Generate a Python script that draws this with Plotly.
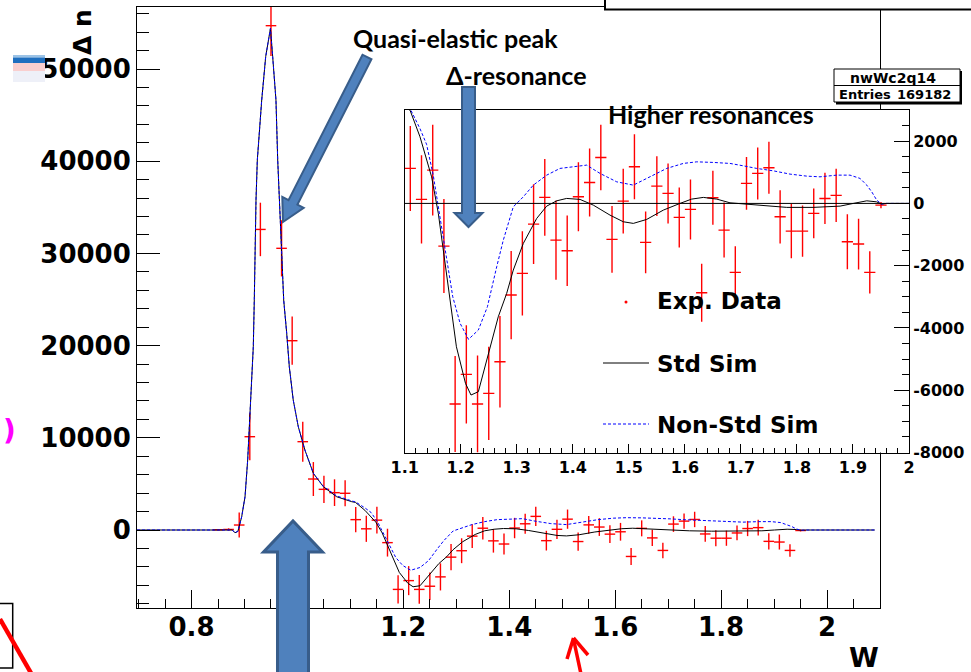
import math
import plotly.graph_objects as go

# ---------------- data ----------------
data_w = [0.85, 0.87, 0.89, 0.91, 0.93, 0.95, 0.97, 0.99, 1.01, 1.03, 1.05, 1.07, 1.09,
          1.11, 1.13, 1.15, 1.17, 1.19, 1.21, 1.23, 1.25, 1.27, 1.29, 1.31, 1.33, 1.35,
          1.37, 1.39, 1.41, 1.43, 1.45, 1.47, 1.49, 1.51, 1.53, 1.55, 1.57, 1.59, 1.61,
          1.63, 1.65, 1.67, 1.69, 1.71, 1.73, 1.75, 1.77, 1.79, 1.81, 1.83, 1.85, 1.87,
          1.89, 1.91, 1.93, 1.95]
data_dn = [20, 60, 540, 10120, 32600, 54700, 30550, 20530, 9580, 5530, 4410, 4050, 3980,
           1124, 128, 1069, -1371, -6443, -5490, -6443, -6100, -5085, -2944, -2248, -665, 193,
           -1178, -1520, 213, 673, 1476, -1156, 74, 1176, -1252, 555, 321, -450, -193,
           -2870, 180, -857, -2216, 642, 963, 1143, -430, -889, -889, -321, 160, 257,
           -1232, -1306, -2216, -55]
data_err = [60, 120, 1350, 2550, 2900, 3300, 3050, 2620, 2170, 1840, 1480, 1450, 1410,
            1364, 1416, 1460, 1509, 1540, 1575, 1560, 1500, 1470, 1415, 1350, 1284, 1230,
            1273, 1130, 1107, 1091, 1053, 1070, 1043, 1043, 990, 963, 963, 963, 963,
            930, 867, 883, 840, 845, 835, 835, 855, 870, 825, 800, 825, 857,
            883, 813, 680, 100]
bin_half_width = 0.01

std_w = [0.697, 0.86, 0.877, 0.882, 0.8875, 0.8947, 0.901, 0.906, 0.9104, 0.9136, 0.9166,
         0.9185, 0.9198, 0.9217, 0.9242, 0.9325, 0.940, 0.949, 0.9532, 0.9594, 0.9627,
         0.967, 0.9721, 0.974, 0.9797, 0.9846, 0.992, 1.0016, 1.014, 1.030, 1.0488, 1.074,
         1.1025, 1.1095, 1.1273, 1.148, 1.16, 1.169, 1.181, 1.1923, 1.2085, 1.2183, 1.2314,
         1.2476, 1.267, 1.282, 1.2938, 1.3117, 1.3356, 1.3534, 1.3713, 1.389, 1.4129, 1.4366,
         1.4664, 1.4902, 1.508, 1.5319, 1.5616, 1.5913, 1.612, 1.633, 1.657, 1.6806, 1.71,
         1.74, 1.7818, 1.829, 1.877, 1.9007, 1.9246, 1.942, 1.951, 1.96, 2.09]
std_dn = [0, 0, 0, -300, -150, 1440, 3610, 7590, 12690, 16630, 19880,
          25000, 32180, 35790, 40130, 46640, 51340, 54400, 51340, 46640, 40130,
          33980, 27470, 24950, 21330, 17710, 14100, 11200, 8680, 6150, 4700, 3610,
          3070, 2995, 2138, 854, -321, -1499, -3104, -4604, -5780, -6154, -6048,
          -4976, -3640, -2890, -2141, -1284, -482, -87, 83, 160, 128, -55,
          -376, -590, -642, -514, -215, 0, 138, 193, 138, 19, -22,
          -87, -128, -128, -87, 0, 83, 51, -22, 0, 0]

nonstd_w = [0.697, 0.86, 0.877, 0.882, 0.8875, 0.8947, 0.901, 0.906, 0.9104, 0.9136, 0.9166,
            0.9185, 0.9198, 0.9217, 0.9242, 0.9325, 0.940, 0.949, 0.9532, 0.9594, 0.9627,
            0.967, 0.9721, 0.974, 0.9797, 0.9846, 0.992, 1.0016, 1.014, 1.030, 1.0488, 1.074,
            1.1025, 1.1095, 1.1273, 1.139, 1.151, 1.163, 1.173, 1.1858, 1.1989, 1.2139,
            1.2314, 1.2476, 1.2642, 1.276, 1.2938, 1.3117, 1.3295, 1.3534, 1.3772, 1.401,
            1.4248, 1.4486, 1.4784, 1.508, 1.5378, 1.5676, 1.5972, 1.6211, 1.6508, 1.6806,
            1.7043, 1.7282, 1.7579, 1.7877, 1.8175, 1.8412, 1.871, 1.8947, 1.9126, 1.9246,
            1.9335, 1.9424, 1.951, 1.96, 2.09]
nonstd_dn = [0, 0, 0, -300, -150, 1440, 3610, 7590, 12690, 16630, 19880,
             25000, 32180, 35790, 40130, 46640, 51340, 54400, 51340, 46640, 40130,
             33980, 27470, 24950, 21330, 17710, 14100, 11200, 8680, 6150, 4750, 3700,
             3150, 3050, 2400, 1900, 900, -450, -1600, -3000, -3852, -4366,
             -4067, -3319, -2035, -1178, -109, 212, 587, 908, 1124, 1175,
             1230, 963, 693, 587, 854, 1124, 1284, 1335, 1316, 1284,
             1207, 1124, 1046, 941, 876, 854, 908, 908, 803, 587,
             372, 106, -22, 0, 0]

main_x_range = [0.697, 2.1]
main_y_range = [-8460, 56725]
inset_x_range = [1.1, 2.0]
inset_y_range = [-8000, 3000]
inset_y_ticks = [-8000, -6000, -4000, -2000, 0, 2000]
inset_y_ticktext = ["-8000", "-6000", "-4000", "-2000", "0", "2000"]

legend_labels = ["Exp. Data", "Std Sim", "Non-Std Sim"]

# ---------------- layout geometry ----------------
W, H = 971, 672
L, R, T, B = 137, 62, 7, 64
PW, PH = W - L - R, H - T - B


def PX(x):
    return (x - L) / PW


def PY(y):
    return (H - B - y) / PH


RED = "#ff0000"
BLUE = "#0000ff"
ARROW_FILL = "#4f81bd"
ARROW_LINE = "#385d8a"
TICKFONT = dict(family="DejaVu Sans", size=26, color="black", weight="bold")
INSETFONT = dict(family="DejaVu Sans", size=16, color="black", weight="bold")

fig = go.Figure()

for xa, ya in (("x", "y"), ("x2", "y2")):
    fig.add_trace(go.Scatter(
        x=data_w, y=data_dn, mode="markers", xaxis=xa, yaxis=ya,
        marker=dict(size=1, color=RED),
        error_x=dict(type="constant", value=bin_half_width, width=0, thickness=1.4, color=RED),
        error_y=dict(type="data", array=data_err, width=0, thickness=1.4, color=RED),
        showlegend=False, hoverinfo="skip"))
    fig.add_trace(go.Scatter(
        x=std_w, y=std_dn, mode="lines", xaxis=xa, yaxis=ya,
        line=dict(color="black", width=1), showlegend=False, hoverinfo="skip"))
    fig.add_trace(go.Scatter(
        x=nonstd_w, y=nonstd_dn, mode="lines", xaxis=xa, yaxis=ya,
        line=dict(color=BLUE, width=1, dash="3px,2px"), showlegend=False, hoverinfo="skip"))

shapes = []
annotations = []


def poly_path(pts):
    s = "M {:.5f} {:.5f}".format(PX(pts[0][0]), PY(pts[0][1]))
    for p in pts[1:]:
        s += " L {:.5f} {:.5f}".format(PX(p[0]), PY(p[1]))
    return s + " Z"


def block_arrow(tail, tip, shw, hhw, hl, lw):
    dx, dy = tip[0] - tail[0], tip[1] - tail[1]
    ln = math.hypot(dx, dy)
    ux, uy = dx / ln, dy / ln
    nx, ny = -uy, ux
    bx, by = tip[0] - ux * hl, tip[1] - uy * hl
    pts = [(tail[0] + nx * shw, tail[1] + ny * shw), (bx + nx * shw, by + ny * shw),
           (bx + nx * hhw, by + ny * hhw), tip, (bx - nx * hhw, by - ny * hhw),
           (bx - nx * shw, by - ny * shw), (tail[0] - nx * shw, tail[1] - ny * shw)]
    shapes.append(dict(type="path", xref="paper", yref="paper", path=poly_path(pts),
                       fillcolor=ARROW_FILL, line=dict(color=ARROW_LINE, width=lw), layer="above"))


def rect(x0, y0, x1, y1, fill="white", lc="black", lw=1):
    shapes.append(dict(type="rect", xref="paper", yref="paper", x0=PX(x0), x1=PX(x1),
                       y0=PY(y1), y1=PY(y0), fillcolor=fill,
                       line=dict(color=lc, width=lw), layer="above"))


def seg(x0, y0, x1, y1, color="black", width=1, dash=None):
    ln = dict(color=color, width=width)
    if dash:
        ln["dash"] = dash
    shapes.append(dict(type="line", xref="paper", yref="paper", x0=PX(x0), x1=PX(x1),
                       y0=PY(y0), y1=PY(y1), line=ln, layer="above"))


def text(s, x, y, font, xanchor="left", yanchor="middle", angle=0):
    annotations.append(dict(text=s, x=PX(x), y=PY(y), xref="paper", yref="paper",
                            xanchor=xanchor, yanchor=yanchor, showarrow=False,
                            font=font, textangle=angle))


# inset zero line
shapes.append(dict(type="line", xref="x2", yref="y2", x0=inset_x_range[0], x1=inset_x_range[1],
                   y0=0, y1=0, line=dict(color="black", width=1), layer="above"))

# title box at top and stats box
rect(605, -6, 980, 9.5, lw=2)
rect(836, 71, 962, 104.5, fill="black", lc="black", lw=0)
rect(834, 69, 960, 102, lw=1)
seg(834, 85.5, 960, 85.5)
stat_font = dict(family="DejaVu Sans", size=13, color="black", weight="bold")
text("nwWc2q14", 893, 77.5, dict(stat_font, size=14), xanchor="center")
text("Entries", 837, 94.5, stat_font)
text("169182", 953, 94.5, stat_font, xanchor="right")

# arrows
block_arrow((367, 57), (283, 222), 5, 12, 22, 2)
block_arrow((468.5, 87), (468.5, 227), 6.5, 14, 14, 2)
block_arrow((293, 700), (293, 521), 15.5, 29.5, 31, 3)

# red arrow bottom
seg(581, 674, 573.5, 639, color=RED, width=3.5)
seg(567, 659, 573.5, 638, color=RED, width=3.5)
seg(588, 655, 573.5, 638, color=RED, width=3.5)

# left side fragments
rect(13, 55, 45, 57.5, fill="#9cc3e6", lc="#9cc3e6", lw=0)
rect(13, 57.5, 45, 63, fill="#1f6fbf", lc="#1f6fbf", lw=0)
rect(13, 63, 45, 71, fill="#f9cfcf", lc="#f9cfcf", lw=0)
rect(13, 71, 45, 82, fill="#eef0f8", lc="#eef0f8", lw=0)
rect(-3, 603.5, 12.7, 668, fill="rgba(0,0,0,0)", lw=1.5)
seg(0, 619, 31, 673, color=RED, width=4.5)
text(")", 9, 430, dict(family="DejaVu Sans", size=28, color="#ff00ff", weight="bold"),
     xanchor="center")

# inset legend
shapes.append(dict(type="circle", xref="paper", yref="paper", x0=PX(624.5), x1=PX(627.5),
                   y0=PY(303.5), y1=PY(300.5), fillcolor=RED, line=dict(width=0), layer="above"))
seg(603, 363, 649, 363, color="black", width=1)
seg(603, 424, 649, 424, color=BLUE, width=1, dash="3px,2px")
leg_font = dict(family="DejaVu Sans", size=23, color="black", weight="bold")
text(legend_labels[0], 655, 301, leg_font)
text(legend_labels[1], 655, 364, leg_font)
text(legend_labels[2], 655, 425, leg_font)

# annotation texts
ann_font = dict(family="Lato", size=25, color="black", weight="bold")
text("Quasi-elastic peak", 351, 38, ann_font)
text("Δ-resonance", 444, 75, ann_font)
text("Higher resonances", 606, 114, ann_font)

# axis titles
title_font = dict(family="DejaVu Sans", size=27, color="black", weight="bold")
text("W", 881, 657, title_font, xanchor="right")
text("Δ n", 82, 7, dict(title_font, size=25), xanchor="center", yanchor="top", angle=-90)

main_x_dom = [0, PX(880)]
inset_x_dom = [PX(404.7), 1]
inset_y_dom = [PY(452.5), PY(110)]

fig.update_layout(
    width=W, height=H,
    margin=dict(l=L, r=R, t=T, b=B, pad=0),
    paper_bgcolor="white", plot_bgcolor="white",
    showlegend=False,
    shapes=shapes, annotations=annotations,
    xaxis=dict(domain=main_x_dom, range=main_x_range, anchor="y",
               showline=True, mirror=True, linecolor="black", linewidth=1,
               showgrid=False, zeroline=False,
               ticks="inside", ticklen=18, tickwidth=1, tickcolor="black",
               dtick=0.2, tick0=0, tickfont=TICKFONT, ticklabelstandoff=-4,
               minor=dict(dtick=0.05, ticks="inside", ticklen=9, tickcolor="black", showgrid=False)),
    yaxis=dict(domain=[0, 1], range=main_y_range, anchor="x",
               showline=True, mirror=True, linecolor="black", linewidth=1,
               showgrid=False, zeroline=False,
               ticks="inside", ticklen=23, tickwidth=1, tickcolor="black",
               dtick=10000, tick0=0, tickformat="d", tickfont=TICKFONT,
               minor=dict(dtick=2000, ticks="inside", ticklen=12, tickcolor="black", showgrid=False)),
    xaxis2=dict(domain=inset_x_dom, range=inset_x_range, anchor="y2",
                showline=True, mirror=True, linecolor="black", linewidth=1,
                showgrid=False, zeroline=False,
                ticks="inside", ticklen=9, tickwidth=1, tickcolor="black",
                dtick=0.1, tick0=0, tickfont=INSETFONT,
                minor=dict(dtick=0.02, ticks="inside", ticklen=5, tickcolor="black", showgrid=False)),
    yaxis2=dict(domain=inset_y_dom, range=inset_y_range, anchor="x2", side="right",
                showline=True, mirror=True, linecolor="black", linewidth=1,
                showgrid=False, zeroline=False,
                ticks="inside", ticklen=15, tickwidth=1, tickcolor="black",
                tickmode="array", tickvals=inset_y_ticks, ticktext=inset_y_ticktext,
                tickfont=INSETFONT,
                minor=dict(dtick=500, ticks="inside", ticklen=7, tickcolor="black", showgrid=False)),
)

fig.write_html("out.html")
